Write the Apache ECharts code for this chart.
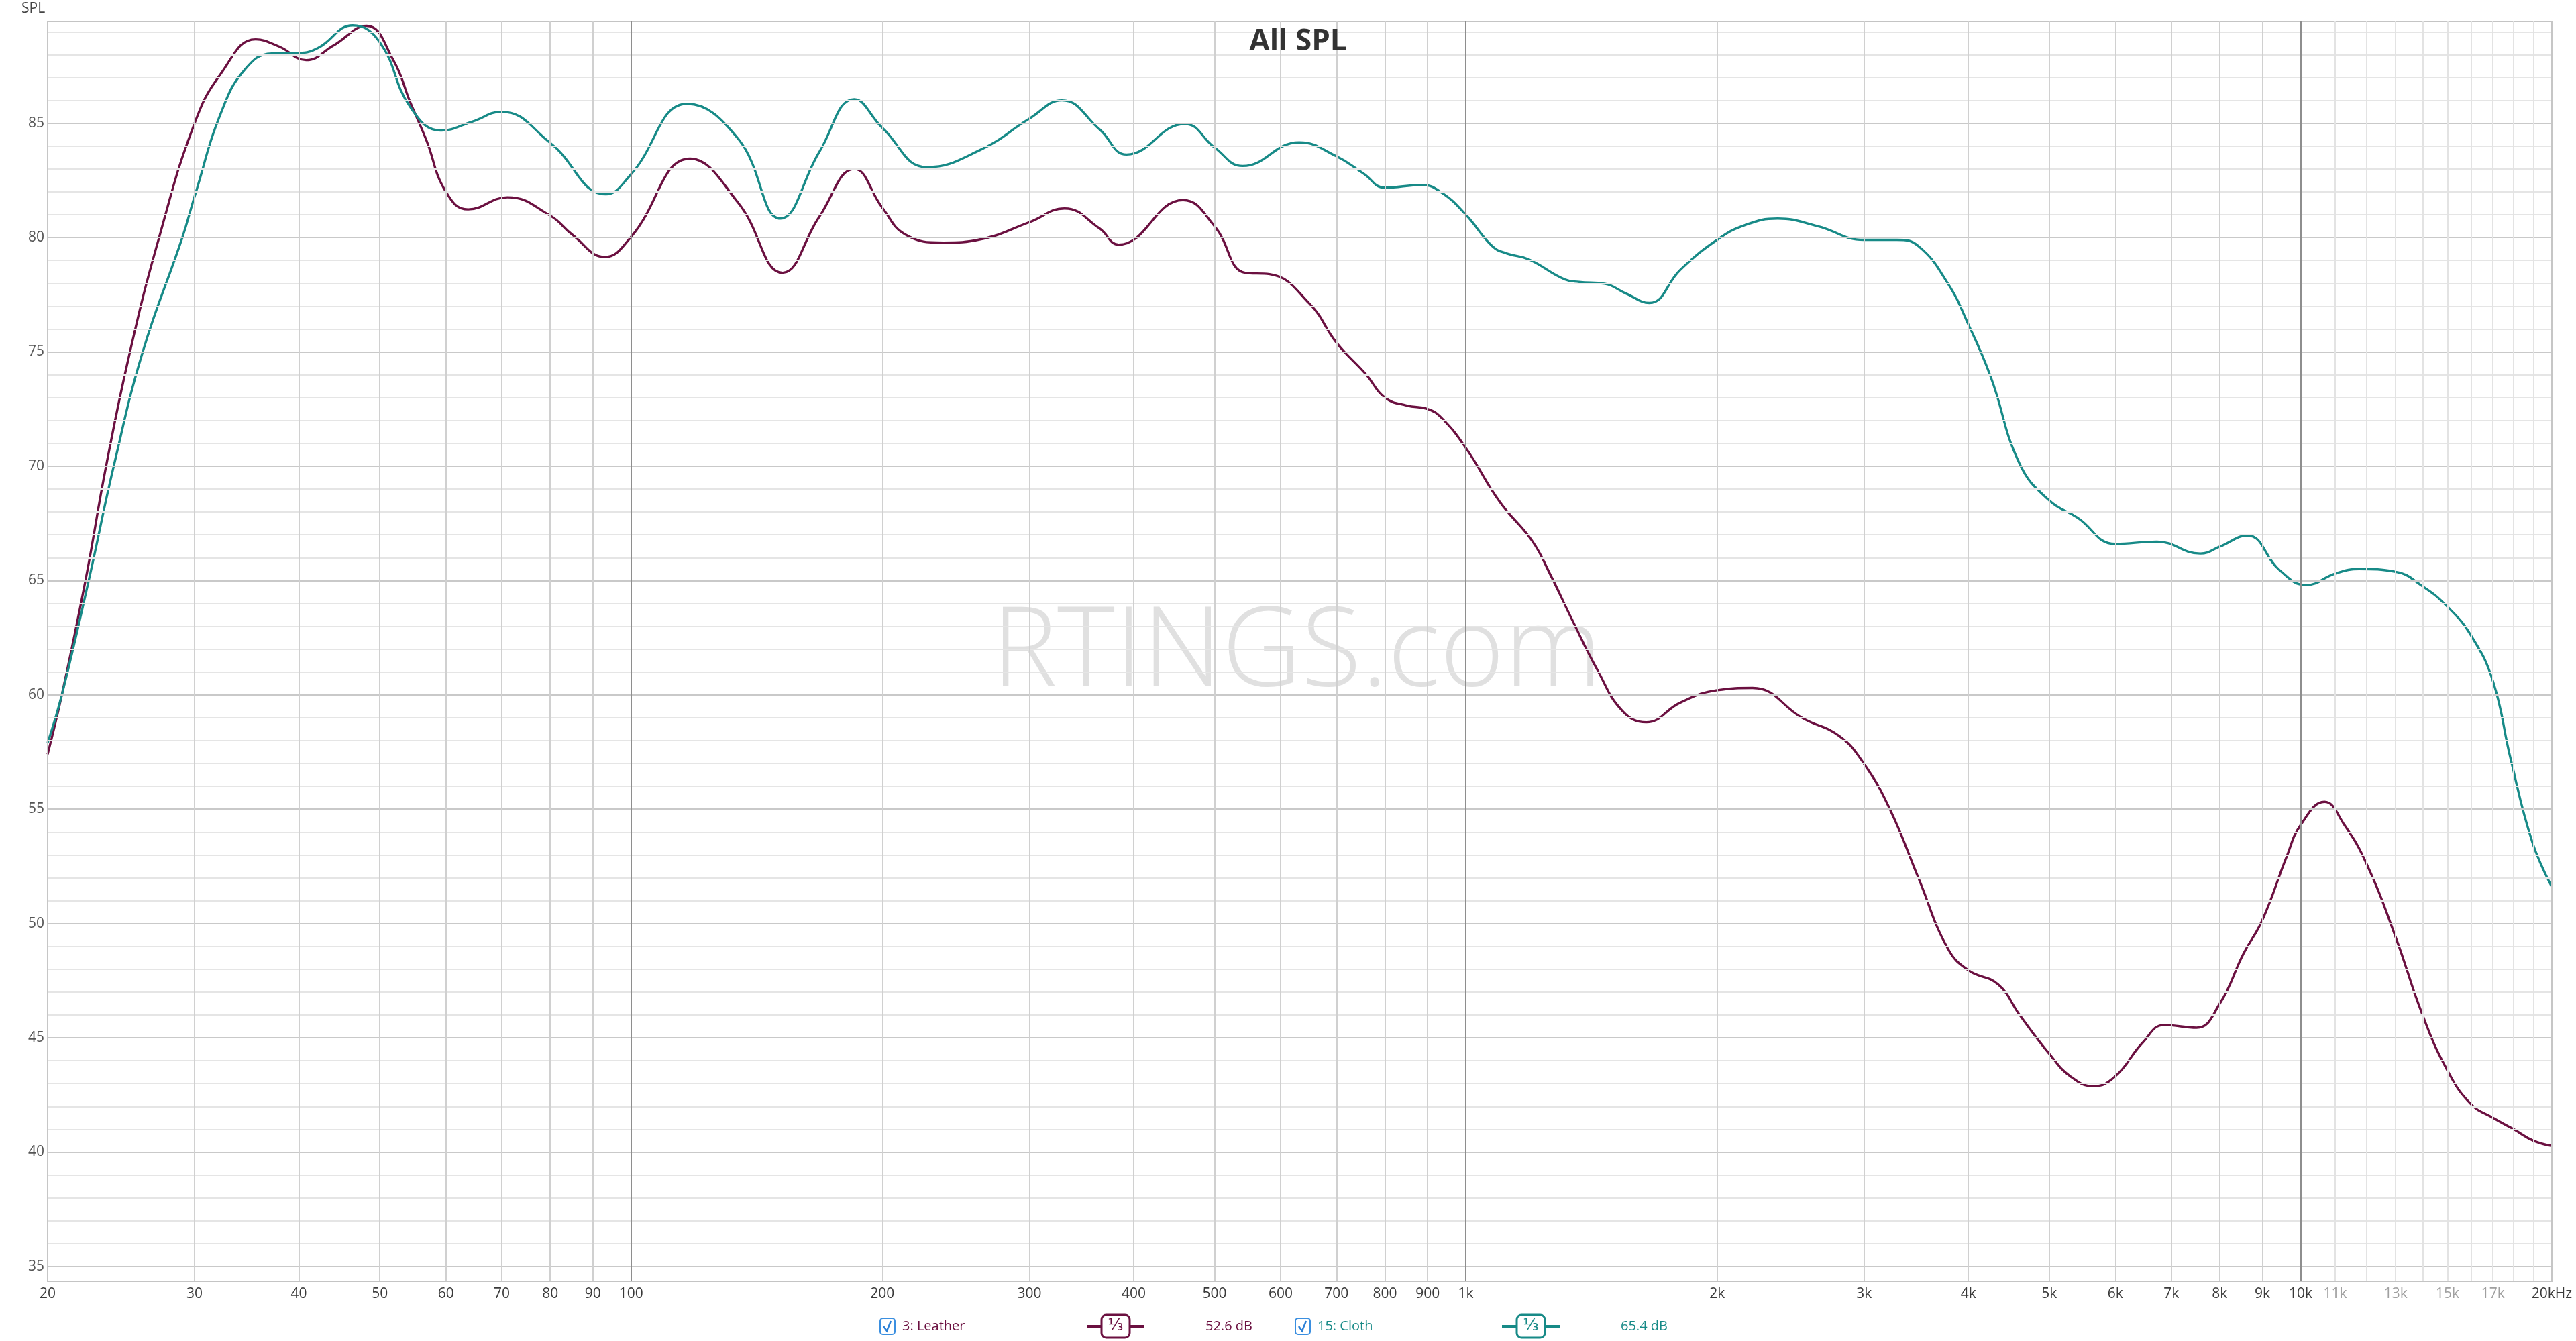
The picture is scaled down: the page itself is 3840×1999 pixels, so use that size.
<!DOCTYPE html>
<html>
<head>
<meta charset="utf-8">
<style>
  html, body { margin: 0; padding: 0; background: #ffffff; }
  #chart { width: 3840px; height: 1999px; }
</style>
<script src="https://cdn.jsdelivr.net/npm/echarts@6/dist/echarts.min.js"></script>
</head>
<body>
<div id="chart"></div>
<script>
// ---------------- data ----------------
const leatherFreq = [20, 20.8, 22.2, 23.5, 25.1, 27.2, 30, 32.3, 35.5, 37.9, 40.8, 44, 48.2, 51.9, 54.4, 56.8, 60, 63.8, 71.1, 80, 85, 93, 100,
  117.7, 134.5, 151.9, 168, 185.1, 200, 213.2, 236.6, 262.6, 300, 330.6, 364, 383.7, 458.4, 500, 544, 582, 650, 700, 760, 800, 850, 900, 936,
  1000, 1098, 1201, 1262, 1340, 1437, 1540, 1645, 1807, 2000, 2205, 2535, 2801, 3000, 3221, 3486, 3776, 4000, 4340, 4608, 5000, 5297, 5645, 6000,
  6466, 6864, 7506, 8000, 8544, 9000, 9630, 10000, 10680, 11290, 12000, 13000, 14000, 15000, 16000, 17000, 18000, 19000, 20000];
const leatherSPL = [57.4, 60, 65, 70, 75, 80, 85.0, 87.2, 88.67, 88.35, 87.76, 88.4, 89.26, 87.76, 85.9, 84.3, 82.0, 81.23, 81.76, 80.96, 80.13, 79.15, 80.03,
  83.45, 81.5, 78.46, 80.9, 83.0, 81.3, 80.13, 79.78, 79.93, 80.67, 81.27, 80.4, 79.69, 81.64, 80.5, 78.46, 78.4, 77.1, 75.4, 74.0, 73.0, 72.65, 72.5, 72.1,
  70.8, 68.44, 66.73, 65.27, 63.3, 61.1, 59.3, 58.8, 59.66, 60.2, 60.3, 58.97, 58.2, 56.98, 55.0, 51.98, 48.93, 47.95, 47.34, 46.0, 44.3, 43.32, 42.88, 43.32,
  44.78, 45.56, 45.44, 46.49, 48.68, 50.15, 52.95, 54.3, 55.32, 54.3, 52.6, 49.4, 46.0, 43.56, 42.1, 41.5, 41.0, 40.5, 40.27];

const clothFreq = [20, 20.8, 22.4, 24.0, 26.0, 29.0, 30, 32.3, 34.5, 37.1, 40, 42.2, 46.4, 50, 54.4, 59.2, 64.5, 69.9, 80, 93.3, 100,
  116.8, 134.5, 151, 168.1, 185.1, 200, 226.3, 262.6, 300, 328.2, 364.1, 392.3, 460.5, 500, 540.2, 631.5, 700, 754, 800, 886, 936,
  1000, 1076, 1120, 1189, 1314, 1367, 1466, 1556, 1659, 1807, 2000, 2162, 2364, 2638, 3000, 3284, 3486, 3776, 4000, 4255, 4608, 5000, 5404, 6000,
  6729, 7583, 8000, 8630, 9439, 10160, 11000, 11750, 13000, 14000, 15000, 16000, 17000, 17850, 18950, 20000];
const clothSPL = [57.9, 60, 65, 70, 75, 80, 81.8, 85.5, 87.37, 88.05, 88.07, 88.3, 89.28, 88.54, 85.7, 84.68, 85.07, 85.5, 84.14, 81.89, 82.77,
  85.85, 84.3, 80.83, 83.75, 86.05, 84.8, 83.08, 83.85, 85.2, 86.0, 84.73, 83.63, 84.97, 83.94, 83.13, 84.16, 83.55, 82.8, 82.18, 82.3, 81.96,
  81.0, 79.62, 79.3, 79.05, 78.17, 78.06, 77.98, 77.55, 77.14, 78.59, 79.9, 80.55, 80.83, 80.5, 79.9, 79.9, 79.62, 78.02, 76.2, 73.9, 70.1, 68.5, 67.75, 66.6,
  66.7, 66.18, 66.48, 66.97, 65.45, 64.8, 65.3, 65.5, 65.38, 64.75, 63.85, 62.6, 60.6, 57.2, 53.56, 51.6];

// axis ticks / grid values
const xMajorTicks = [30, 40, 50, 60, 70, 80, 90, 200, 300, 400, 500, 600, 700, 800, 900, 2000, 3000, 4000, 5000, 6000, 7000, 8000, 9000];
const xDecadeTicks = [100, 1000, 10000];
const xFaintTicks = [11000, 12000, 13000, 14000, 15000, 16000, 17000, 18000, 19000];
const xLabelText = {20: '20', 30: '30', 40: '40', 50: '50', 60: '60', 70: '70', 80: '80', 90: '90', 100: '100',
  200: '200', 300: '300', 400: '400', 500: '500', 600: '600', 700: '700', 800: '800', 900: '900', 1000: '1k',
  2000: '2k', 3000: '3k', 4000: '4k', 5000: '5k', 6000: '6k', 7000: '7k', 8000: '8k', 9000: '9k', 10000: '10k',
  11000: '11k', 13000: '13k', 15000: '15k', 17000: '17k', 20000: '20kHz'};
const yMajorTicks = [35, 40, 45, 50, 55, 60, 65, 70, 75, 80, 85];
const yMinorTicks = [36, 37, 38, 39, 41, 42, 43, 44, 46, 47, 48, 49, 51, 52, 53, 54, 56, 57, 58, 59, 61, 62, 63, 64,
  66, 67, 68, 69, 71, 72, 73, 74, 76, 77, 78, 79, 81, 82, 83, 84, 86, 87, 88, 89];

const seriesNames = ['3: Leather', '15: Cloth'];
const seriesLevels = ['52.6 dB', '65.4 dB'];

// ---------------- styles ----------------
const FONT = '"Open Sans", "Noto Sans", sans-serif';
const LEATHER = '#6b1040';
const CLOTH = '#178a87';

function pairs(fs, vs) { return fs.map((f, i) => [f, vs[i]]); }

const gridLines = [];
yMinorTicks.forEach(v => gridLines.push({ yAxis: v, lineStyle: { color: '#e5e5e5', width: 2, type: 'solid' }, label: { show: false } }));
yMajorTicks.forEach(v => gridLines.push({ yAxis: v, lineStyle: { color: '#c9c9c9', width: 2, type: 'solid' },
  label: { show: true, position: 'start', formatter: String(v), color: '#555', fontSize: 21, fontFamily: FONT, distance: 5 } }));
function xLabel(v, color) {
  if (!xLabelText[v]) return { show: false };
  return { show: true, position: 'start', formatter: xLabelText[v], color: color, fontSize: 21, fontFamily: FONT, distance: 9 };
}
xFaintTicks.forEach(v => gridLines.push({ xAxis: v, lineStyle: { color: '#e3e3e3', width: 2, type: 'solid' },
  label: xLabel(v, '#a0a0a0') }));
xMajorTicks.forEach(v => gridLines.push({ xAxis: v, lineStyle: { color: '#d0d0d0', width: 2, type: 'solid' }, label: xLabel(v, '#3a3a3a') }));
xDecadeTicks.forEach(v => gridLines.push({ xAxis: v, lineStyle: { color: '#8e8e8e', width: 2, type: 'solid' }, label: xLabel(v, '#3a3a3a') }));
gridLines.push({ xAxis: 20, lineStyle: { color: '#c6c6c6', width: 2, type: 'solid' }, label: xLabel(20, '#3a3a3a') });
gridLines.push({ xAxis: 20000, lineStyle: { color: '#c6c6c6', width: 2, type: 'solid' }, label: xLabel(20000, '#3a3a3a') });

const chart = echarts.init(document.getElementById('chart'), null, { renderer: 'canvas' });

function legendItem(x, idx, color) {
  const y = 1977;
  return [
    { type: 'rect', shape: { x: x, y: y - 12, width: 22, height: 24, r: 4 }, style: { fill: '#fff', stroke: '#3b8fe0', lineWidth: 2 }, z: 10 },
    { type: 'polyline', shape: { points: [[x + 5, y], [x + 10, y + 7], [x + 16, y - 8]] }, style: { stroke: '#2a7fd6', lineWidth: 2.5, fill: null }, z: 11 },
    { type: 'text', x: x + 33, y: y, style: { text: seriesNames[idx], fill: color, font: '20px ' + FONT, textVerticalAlign: 'middle' }, z: 10 },
    { type: 'line', shape: { x1: x + 308, y1: y, x2: x + 394, y2: y }, style: { stroke: color, lineWidth: 4 }, z: 10 },
    { type: 'rect', shape: { x: x + 330, y: y - 17, width: 42, height: 34, r: 7 }, style: { fill: '#fff', stroke: color, lineWidth: 3 }, z: 11 },
    { type: 'text', x: x + 351, y: y, style: { text: '⅓', fill: color, font: '24px "DejaVu Sans", sans-serif', textAlign: 'center', textVerticalAlign: 'middle' }, z: 12 },
    { type: 'text', x: x + 485, y: y, style: { text: seriesLevels[idx], fill: color, font: '20px ' + FONT, textVerticalAlign: 'middle' }, z: 10 }
  ];
}

const option = {
  animation: false,
  backgroundColor: '#ffffff',
  grid: { left: 71, top: 32, width: 3733, height: 1878, show: true, borderColor: '#c4c4c4', borderWidth: 2, backgroundColor: 'transparent' },
  xAxis: { type: 'log', logBase: 10, min: 20, max: 20000,
    axisLine: { show: false }, axisTick: { show: false }, axisLabel: { show: false }, splitLine: { show: false } },
  yAxis: { type: 'value', min: 34.35, max: 89.45,
    axisLine: { show: false }, axisTick: { show: false }, axisLabel: { show: false }, splitLine: { show: false } },
  graphic: [
    { type: 'text', x: 1933, y: 975, z: 1, style: { text: 'RTINGS.com', fill: '#e0e0e0', font: '300 164px "Open Sans", sans-serif', textAlign: 'center', textVerticalAlign: 'middle' } },
    { type: 'text', x: 1935, y: 62, z: 20, style: { text: 'All SPL', fill: '#333333', font: 'bold 44px ' + FONT, textAlign: 'center', textVerticalAlign: 'middle' } },
    { type: 'text', x: 32, y: 13, z: 20, style: { text: 'SPL', fill: '#444444', font: '21px ' + FONT, textVerticalAlign: 'middle' } },
    ...legendItem(1312, 0, LEATHER),
    ...legendItem(1931, 1, CLOTH)
  ],
  series: [
    { type: 'line', name: 'grid', data: [], z: 1, silent: true,
      markLine: { silent: true, symbol: ['none', 'none'], animation: false, data: gridLines } },
    { type: 'line', name: seriesNames[0], data: pairs(leatherFreq, leatherSPL), smooth: 0.45, showSymbol: false, symbol: 'none',
      lineStyle: { color: LEATHER, width: 3.4 }, itemStyle: { color: LEATHER }, z: 3 },
    { type: 'line', name: seriesNames[1], data: pairs(clothFreq, clothSPL), smooth: 0.45, showSymbol: false, symbol: 'none',
      lineStyle: { color: CLOTH, width: 3.4 }, itemStyle: { color: CLOTH }, z: 4 }
  ]
};
chart.setOption(option);
</script>
</body>
</html>
